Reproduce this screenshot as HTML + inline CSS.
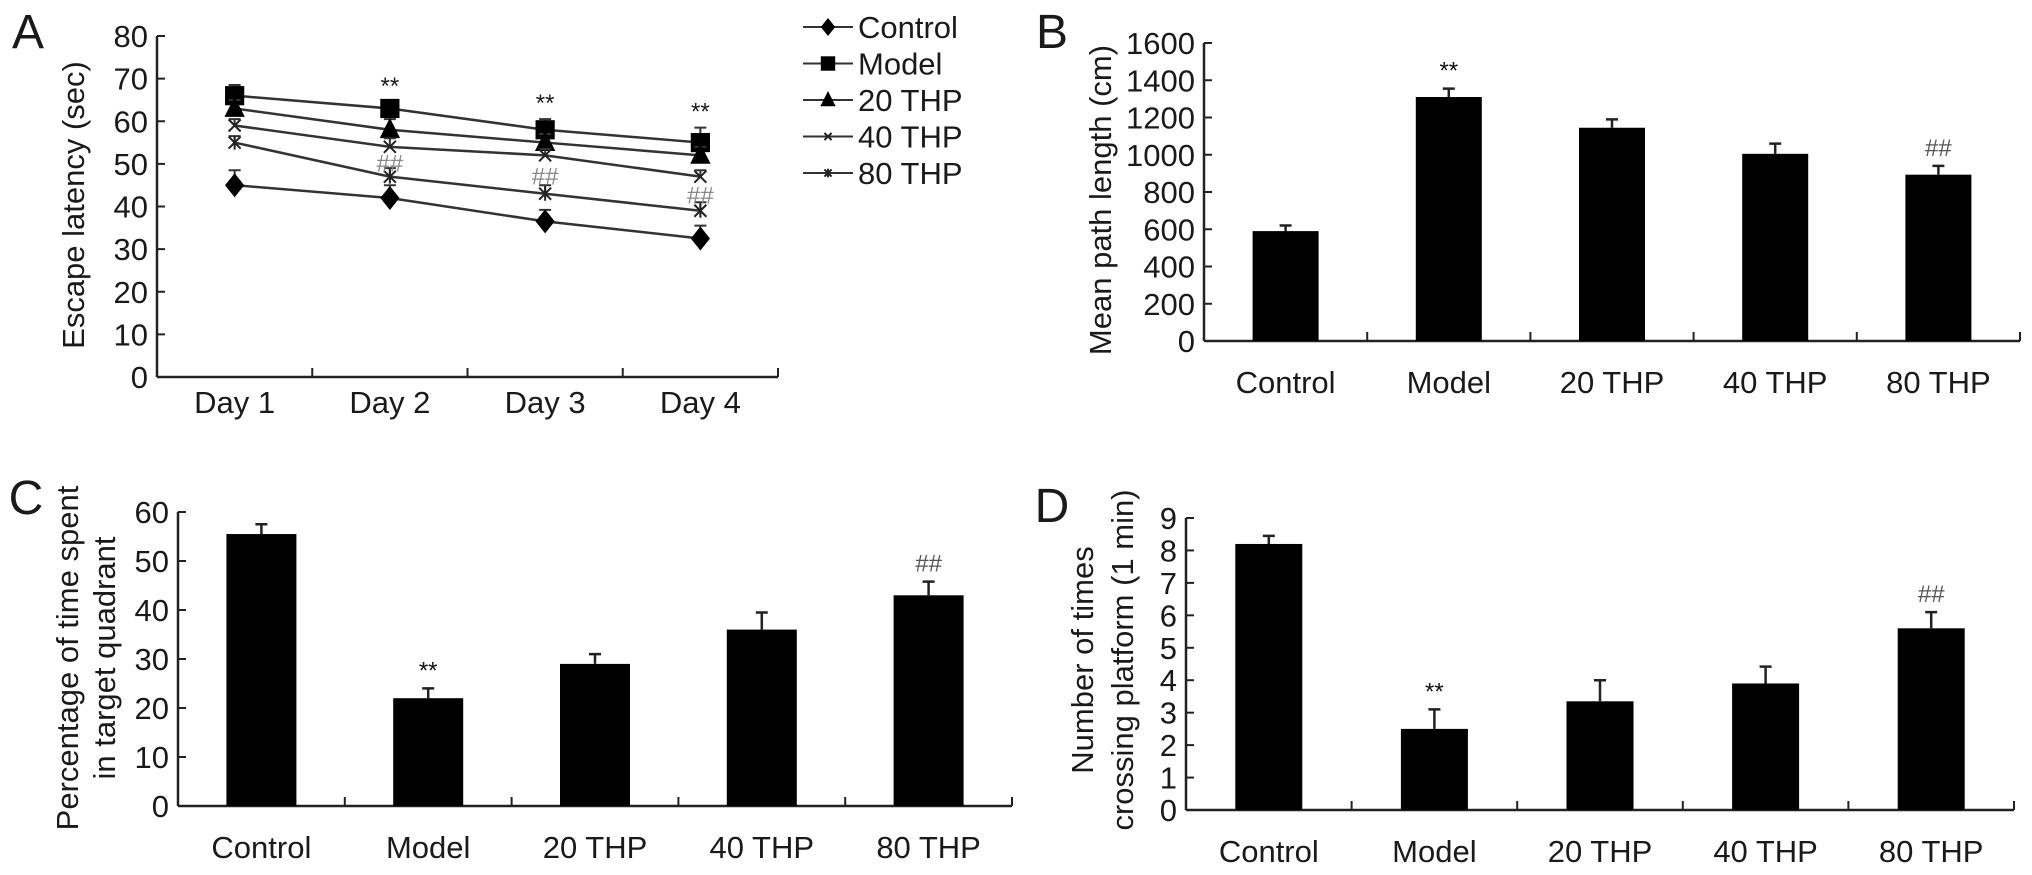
<!DOCTYPE html>
<html><head><meta charset="utf-8">
<style>
html,body{margin:0;padding:0;background:#fff;}
svg{display:block;font-family:"Liberation Sans",Arial,sans-serif;}
</style></head>
<body>
<svg id="fig" width="2032" height="875" viewBox="0 0 2032 875"></svg>
<script>
// ---------- Panel A data ----------
const daysA = ["Day 1","Day 2","Day 3","Day 4"];
const ticksA = [0,10,20,30,40,50,60,70,80];
const controlA = [45,42,36.5,32.5];
const controlErrA = [3.5,3,2.7,3];
const modelA = [66,63,58,55];
const modelErrA = [2.5,1.5,2.5,3.5];
const thp20A = [63,58,55,52];
const thp20ErrA = [2,2.5,2,2];
const thp40A = [59,54,52,47];
const thp40ErrA = [1.5,2,1.5,1.5];
const thp80A = [55,47,43,39];
const thp80ErrA = [1.5,2,2,2];
// ---------- Bar panels ----------
const groups = ["Control","Model","20 THP","40 THP","80 THP"];
const ticksB = [0,200,400,600,800,1000,1200,1400,1600];
const pathLen = [590,1310,1145,1005,893];
const pathLenErr = [30,45,45,55,47];
const ticksC = [0,10,20,30,40,50,60];
const pctTime = [55.5,22,29,36,43];
const pctTimeErr = [2,2,2,3.5,2.8];
const ticksD = [0,1,2,3,4,5,6,7,8,9];
const crossings = [8.2,2.5,3.35,3.9,5.6];
const crossingsErr = [0.25,0.6,0.65,0.52,0.5];

const NS="http://www.w3.org/2000/svg";
const svg=document.getElementById('fig');
const FS=31;
function mk(tag,attrs,parent){const e=document.createElementNS(NS,tag);for(const k in attrs)e.setAttribute(k,attrs[k]);(parent||svg).appendChild(e);return e;}
function txt(s,x,y,size,anchor,parent,extra){const t=mk('text',Object.assign({x:x,y:y,'font-size':size,'text-anchor':anchor||'middle',fill:'#1a1a1a'},extra||{}),parent);t.textContent=s;return t;}

function axes(g,x0,x1,yTop,yBot,ticks,nCats,labels,labelY){
  const maxV=ticks[ticks.length-1];
  const yS=v=>yBot-(v/maxV)*(yBot-yTop);
  mk('line',{x1:x0,y1:yTop,x2:x0,y2:yBot,stroke:'#222','stroke-width':2.5},g);
  mk('line',{x1:x0,y1:yBot,x2:x1,y2:yBot,stroke:'#222','stroke-width':2.5},g);
  ticks.forEach(t=>{
    const y=yS(t);
    const tl=mk('line',{x1:x0,y1:y,x2:x0+8,y2:y,stroke:'#222','stroke-width':2},g);
    
    
    const lb=txt(String(t),x0-9,y+11,FS,'end',g);
    
    
  });
  const w=(x1-x0)/nCats;
  for(let i=1;i<=nCats;i++){
    const tl=mk('line',{x1:x0+w*i,y1:yBot,x2:x0+w*i,y2:yBot-9,stroke:'#222','stroke-width':2},g);
    
    
  }
  labels.forEach((l,i)=>{
    const lb=txt(l,x0+w*(i+0.5),labelY,FS,'middle',g);
    
    
  });
  return {yS:yS,xC:i=>x0+w*(i+0.5),w:w};
}

function barPanel(name,x0,x1,yTop,yBot,ticks,vals,errs,labelY,barW,marks){
  const g=mk('g',{});
  const ax=axes(g,x0,x1,yTop,yBot,ticks,vals.length,groups,labelY);
  vals.forEach((v,i)=>{
    const cx=ax.xC(i);
    const r=mk('rect',{x:cx-barW/2,y:ax.yS(v),width:barW,height:yBot-ax.yS(v),fill:'#000'},g);
    
    
    const ye=ax.yS(v+errs[i]);
    const e=mk('path',{d:`M${cx},${ax.yS(v)} V${ye} M${cx-6},${ye} H${cx+6}`,stroke:'#222','stroke-width':2.5,fill:'none'},g);
    
    
    if(marks[i]){
      const m=txt(marks[i],cx,ye-10,24,'middle',g,{fill:marks[i]==='**'?'#111':'#555'});
      
      
    }
  });
  return g;
}

// ---------- Panel A ----------
(function(){
  const g=mk('g',{});
  const ax=axes(g,157,778,36,377,ticksA,4,daysA,413);
  const series=[
    {n:'control',v:controlA,e:controlErrA,m:'diamond'},
    {n:'model',v:modelA,e:modelErrA,m:'square'},
    {n:'20-thp',v:thp20A,e:thp20ErrA,m:'triangle'},
    {n:'40-thp',v:thp40A,e:thp40ErrA,m:'x'},
    {n:'80-thp',v:thp80A,e:thp80ErrA,m:'star'}];
  function marker(type,x,y,s,parent){
    let el;
    if(type==='diamond') el=mk('path',{d:`M${x},${y-s} L${x+s*0.8},${y} L${x},${y+s} L${x-s*0.8},${y}Z`,fill:'#000'},parent);
    else if(type==='square') el=mk('rect',{x:x-s*0.8,y:y-s*0.8,width:s*1.6,height:s*1.6,fill:'#000'},parent);
    else if(type==='triangle') el=mk('path',{d:`M${x},${y-s} L${x+s*0.85},${y+s*0.7} L${x-s*0.85},${y+s*0.7}Z`,fill:'#000'},parent);
    else if(type==='x') el=mk('path',{d:`M${x-s*0.6},${y-s*0.6} L${x+s*0.6},${y+s*0.6} M${x-s*0.6},${y+s*0.6} L${x+s*0.6},${y-s*0.6}`,stroke:'#222','stroke-width':2,fill:'none'},parent);
    else el=mk('path',{d:`M${x-s*0.6},${y-s*0.6} L${x+s*0.6},${y+s*0.6} M${x-s*0.6},${y+s*0.6} L${x+s*0.6},${y-s*0.6} M${x},${y-s*0.7} V${y+s*0.7}`,stroke:'#222','stroke-width':2,fill:'none'},parent);
    return el;
  }
  series.forEach(s=>{
    const pts=s.v.map((v,i)=>[ax.xC(i),ax.yS(v)]);
    const l=mk('polyline',{points:pts.map(p=>p.join(',')).join(' '),fill:'none',stroke:'#333','stroke-width':2.5},g);
    
    
    s.v.forEach((v,i)=>{
      const x=ax.xC(i),ye=ax.yS(v+s.e[i]);
      const e=mk('path',{d:`M${x},${ax.yS(v)} V${ye} M${x-6},${ye} H${x+6}`,stroke:'#333','stroke-width':2,fill:'none'},g);
      
      
      const m=marker(s.m,x,ax.yS(v),s.m==='x'||s.m==='star'?10:12,g);
      
      
    });
  });
  [1,2,3].forEach(i=>{
    const st=txt('**',ax.xC(i),ax.yS(modelA[i]+modelErrA[i])-8,24,'middle',g);
    
    
    const h=txt('##',ax.xC(i),ax.yS((thp80A[i]+thp40A[i])/2)+10,24,'middle',g,{fill:'#888'});
    
    
  });
  const yt=txt('Escape latency (sec)',0,0,FS,'middle',g,{transform:'translate(84,205) rotate(-90)'});
  
  
  const pl=txt('A',28,48,48,'middle',g);
  
  
  // legend
  const lg=mk('g',{});
  const names=['Control','Model','20 THP','40 THP','80 THP'];
  series.forEach((s,i)=>{
    const y=27+i*36.5;
    const e=mk('g',{},lg);
    
    
    mk('line',{x1:803,y1:y,x2:853,y2:y,stroke:'#333','stroke-width':2},e);
    marker(s.m,828,y,s.m==='x'||s.m==='star'?6:9,e);
    txt(names[i],858,y+11,FS,'start',e);
  });
})();

// ---------- Panel B ----------
(function(){
  const g=barPanel('panel-b',1204,2020,43,341,ticksB,pathLen,pathLenErr,393,66,['','**','','','##']);
  const yt=txt('Mean path length (cm)',0,0,FS,'middle',g,{transform:'translate(1111,200) rotate(-90)'});
  
  
  const pl=txt('B',1052,48,48,'middle',g);
  
  
})();

// ---------- Panel C ----------
(function(){
  const g=barPanel('panel-c',178,1012,512,806,ticksC,pctTime,pctTimeErr,858,70,['','**','','','##']);
  const y1=txt('Percentage of time spent',0,0,FS,'middle',g,{transform:'translate(78,658) rotate(-90)'});
  
  
  const y2=txt('in target quadrant',0,0,FS,'middle',g,{transform:'translate(115,658) rotate(-90)'});
  
  
  const pl=txt('C',26,514,48,'middle',g);
  
  
})();

// ---------- Panel D ----------
(function(){
  const g=barPanel('panel-d',1186,2014,518,810,ticksD,crossings,crossingsErr,862,67,['','**','','','##']);
  const y1=txt('Number of times',0,0,FS,'middle',g,{transform:'translate(1093,660) rotate(-90)'});
  
  
  const y2=txt('crossing platform (1 min)',0,0,FS,'middle',g,{transform:'translate(1133,660) rotate(-90)'});
  
  
  const pl=txt('D',1052,522,48,'middle',g);
  
  
})();
</script>
</body></html>
